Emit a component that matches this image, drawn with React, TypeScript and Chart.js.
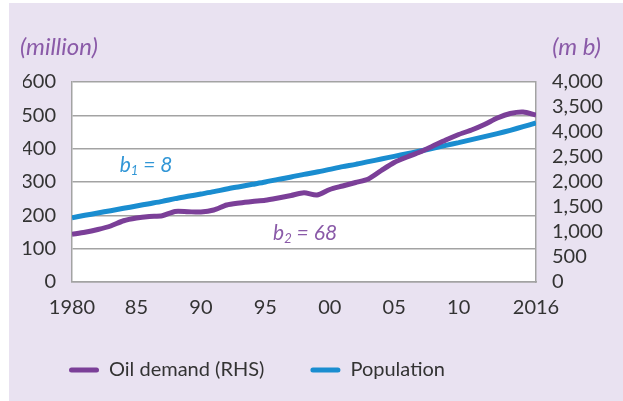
import React, { useEffect, useRef } from "react";
import { Chart, registerables } from "chart.js";

Chart.register(...registerables);

// ---- data ----
const years = [
  1980, 1981, 1982, 1983, 1984, 1985, 1986, 1987, 1988, 1989,
  1990, 1991, 1992, 1993, 1994, 1995, 1996, 1997, 1998, 1999,
  2000, 2001, 2002, 2003, 2004, 2005, 2006, 2007, 2008, 2009,
  2010, 2011, 2012, 2013, 2014, 2015, 2016,
];

// Oil demand, m b (right-hand scale)
const oilDemand = [
  954, 995, 1050, 1120, 1225, 1280, 1310, 1325, 1410, 1405,
  1400, 1440, 1540, 1580, 1610, 1635, 1680, 1730, 1785, 1740,
  1850, 1920, 1990, 2060, 2230, 2390, 2500, 2600, 2720, 2840,
  2950, 3040, 3150, 3280, 3370, 3400, 3340,
];

// Population, million (left-hand scale)
const population = [
  193, 200, 207, 214, 221, 228, 235, 242, 250, 257,
  264, 271, 279, 286, 293, 300, 308, 315, 323, 330,
  338, 346, 353, 361, 369, 377, 385, 393, 401, 410,
  418, 427, 436, 445, 455, 466, 477,
];

const xTickValues = [1980, 1985, 1990, 1995, 2000, 2005, 2010, 2016];
const xTickLabels = ["1980", "85", "90", "95", "00", "05", "10", "2016"];
const leftTickLabels = ["0", "100", "200", "300", "400", "500", "600"];
const rightTickLabels = ["0", "500", "1,000", "1,500", "2,000", "2,500", "4,000", "3,500", "4,000"];

const seriesNames = ["Oil demand (RHS)", "Population"];
const leftTitle = "(million)";
const rightTitle = "(m b)";

// annotation labels, anchored in data space (left edge year, centre value on left scale)
const annotationBase = ["b", "b"];
const annotationSub = ["1", "2"];
const annotationRest = [" = 8", " = 68"];
const annotationYear = [1983.7, 1995.6];
const annotationValue = [350, 146];

// ---- styles ----
const PURPLE = "#7b3f98";
const BLUE = "#1a8dd0";
const TITLE_PURPLE = "#8a5aa8";
const ANNOT_BLUE = "#3196d6";
const ANNOT_PURPLE = "#8a5aa8";
const TEXT = "#333333";
const GRID = "#a3a3a3";
const BG = "#e9e2f1";
const FONT = "Lato";
const FS = 20;

const overlayPlugin = {
  id: "overlayText",
  afterDatasetsDraw(chart: any) {
    const { ctx, chartArea, scales } = chart;
    ctx.save();
    ctx.textBaseline = "middle";
    // axis unit titles
    ctx.font = `italic 24px ${FONT}`;
    ctx.fillStyle = TITLE_PURPLE;
    ctx.textAlign = "left";
    ctx.fillText(leftTitle, 20, chartArea.top - 35);
    ctx.textAlign = "right";
    ctx.fillText(rightTitle, 601, chartArea.top - 35);

    // annotations
    ctx.textAlign = "left";
    const colors = [ANNOT_BLUE, ANNOT_PURPLE];
    for (let i = 0; i < annotationBase.length; i++) {
      let x = scales.x.getPixelForValue(annotationYear[i]);
      const y = scales.y.getPixelForValue(annotationValue[i]);
      ctx.fillStyle = colors[i];
      ctx.font = `italic 21px ${FONT}`;
      ctx.fillText(annotationBase[i], x, y);
      x += ctx.measureText(annotationBase[i]).width;
      ctx.font = `italic 13px ${FONT}`;
      ctx.fillText(annotationSub[i], x, y + 5);
      x += ctx.measureText(annotationSub[i]).width;
      ctx.font = `italic 21px ${FONT}`;
      ctx.fillText(annotationRest[i], x, y);
    }
    ctx.restore();
  },
};

export default function App() {
  const canvasRef = useRef<HTMLCanvasElement | null>(null);

  useEffect(() => {
    let chart: Chart | null = null;
    let cancelled = false;
    const build = () => {
      if (cancelled || !canvasRef.current) return;
      chart = new Chart(canvasRef.current, {
        type: "line",
        data: {
          datasets: [
            {
              label: seriesNames[0],
              data: years.map((yr, i) => ({ x: yr, y: oilDemand[i] })),
              borderColor: PURPLE,
              backgroundColor: PURPLE,
              borderWidth: 5,
              pointRadius: 0,
              tension: 0.25,
              yAxisID: "y1",
            },
            {
              label: seriesNames[1],
              data: years.map((yr, i) => ({ x: yr, y: population[i] })),
              borderColor: BLUE,
              backgroundColor: BLUE,
              borderWidth: 5,
              pointRadius: 0,
              tension: 0.25,
              yAxisID: "y",
            },
          ],
        },
        options: {
          responsive: false,
          animation: false,
          layout: { padding: { left: 23, right: 0, top: 82, bottom: 11 } },
          plugins: {
            tooltip: { enabled: false },
            legend: {
              position: "bottom",
              align: "start",
              labels: {
                color: TEXT,
                font: { family: FONT, size: FS },
                boxWidth: 30,
                boxHeight: 5,
                padding: 46,
                useBorderRadius: true,
                borderRadius: 2.5,
                generateLabels: (c: any) =>
                  Chart.defaults.plugins.legend.labels
                    .generateLabels(c)
                    .map((l: any) => ({ ...l, fillStyle: l.strokeStyle, lineWidth: 0 })),
              },
            },
          },
          scales: {
            x: {
              type: "linear",
              min: 1980,
              max: 2016,
              grid: { display: false, drawTicks: false },
              border: { display: true, color: GRID, width: 1.5 },
              afterBuildTicks: (scale: any) => {
                scale.ticks = xTickValues.map((v) => ({ value: v }));
              },
              afterFit: (scale: any) => {
                scale.height = 32;
              },
              ticks: {
                autoSkip: false,
                maxRotation: 0,
                padding: 14,
                color: TEXT,
                font: { family: FONT, size: FS },
                callback: (v: any) => xTickLabels[xTickValues.indexOf(Number(v))],
              },
            },
            y: {
              position: "left",
              min: 0,
              max: 600,
              grid: { color: GRID, lineWidth: 1.5, drawTicks: false },
              border: { display: true, color: GRID, width: 1.5 },
              afterFit: (scale: any) => {
                scale.width = 49;
              },
              ticks: {
                stepSize: 100,
                autoSkip: false,
                padding: 16,
                color: TEXT,
                font: { family: FONT, size: FS },
                callback: (_v: any, i: number) => leftTickLabels[i],
              },
            },
            y1: {
              position: "right",
              min: 0,
              max: 4000,
              grid: { drawOnChartArea: false, drawTicks: false },
              border: { display: true, color: GRID, width: 1.5 },
              afterFit: (scale: any) => {
                scale.width = 87;
              },
              ticks: {
                stepSize: 500,
                autoSkip: false,
                padding: 16,
                color: TEXT,
                font: { family: FONT, size: FS },
                callback: (_v: any, i: number) => rightTickLabels[i],
              },
            },
          },
        },
        plugins: [overlayPlugin],
      } as any);
    };
    const fonts = (document as any).fonts;
    if (fonts && fonts.load) {
      Promise.all([
        fonts.load(`${FS}px ${FONT}`),
        fonts.load(`italic ${FS}px ${FONT}`),
      ]).then(build, build);
    } else {
      build();
    }
    return () => {
      cancelled = true;
      if (chart) chart.destroy();
    };
  }, []);

  return (
    <div style={{ position: "absolute", left: 0, top: 0, width: 623, height: 401, background: "#ffffff", overflow: "hidden" }}>
      <div style={{ position: "absolute", left: 9, top: 3, right: 0, bottom: 0, background: BG }} />
      <div style={{ position: "absolute", left: 72, top: 82, width: 464, height: 200, background: "#ffffff" }} />
      <canvas ref={canvasRef} width={623} height={401} style={{ position: "absolute", left: 0, top: 0, width: 623, height: 401 }} />
    </div>
  );
}
